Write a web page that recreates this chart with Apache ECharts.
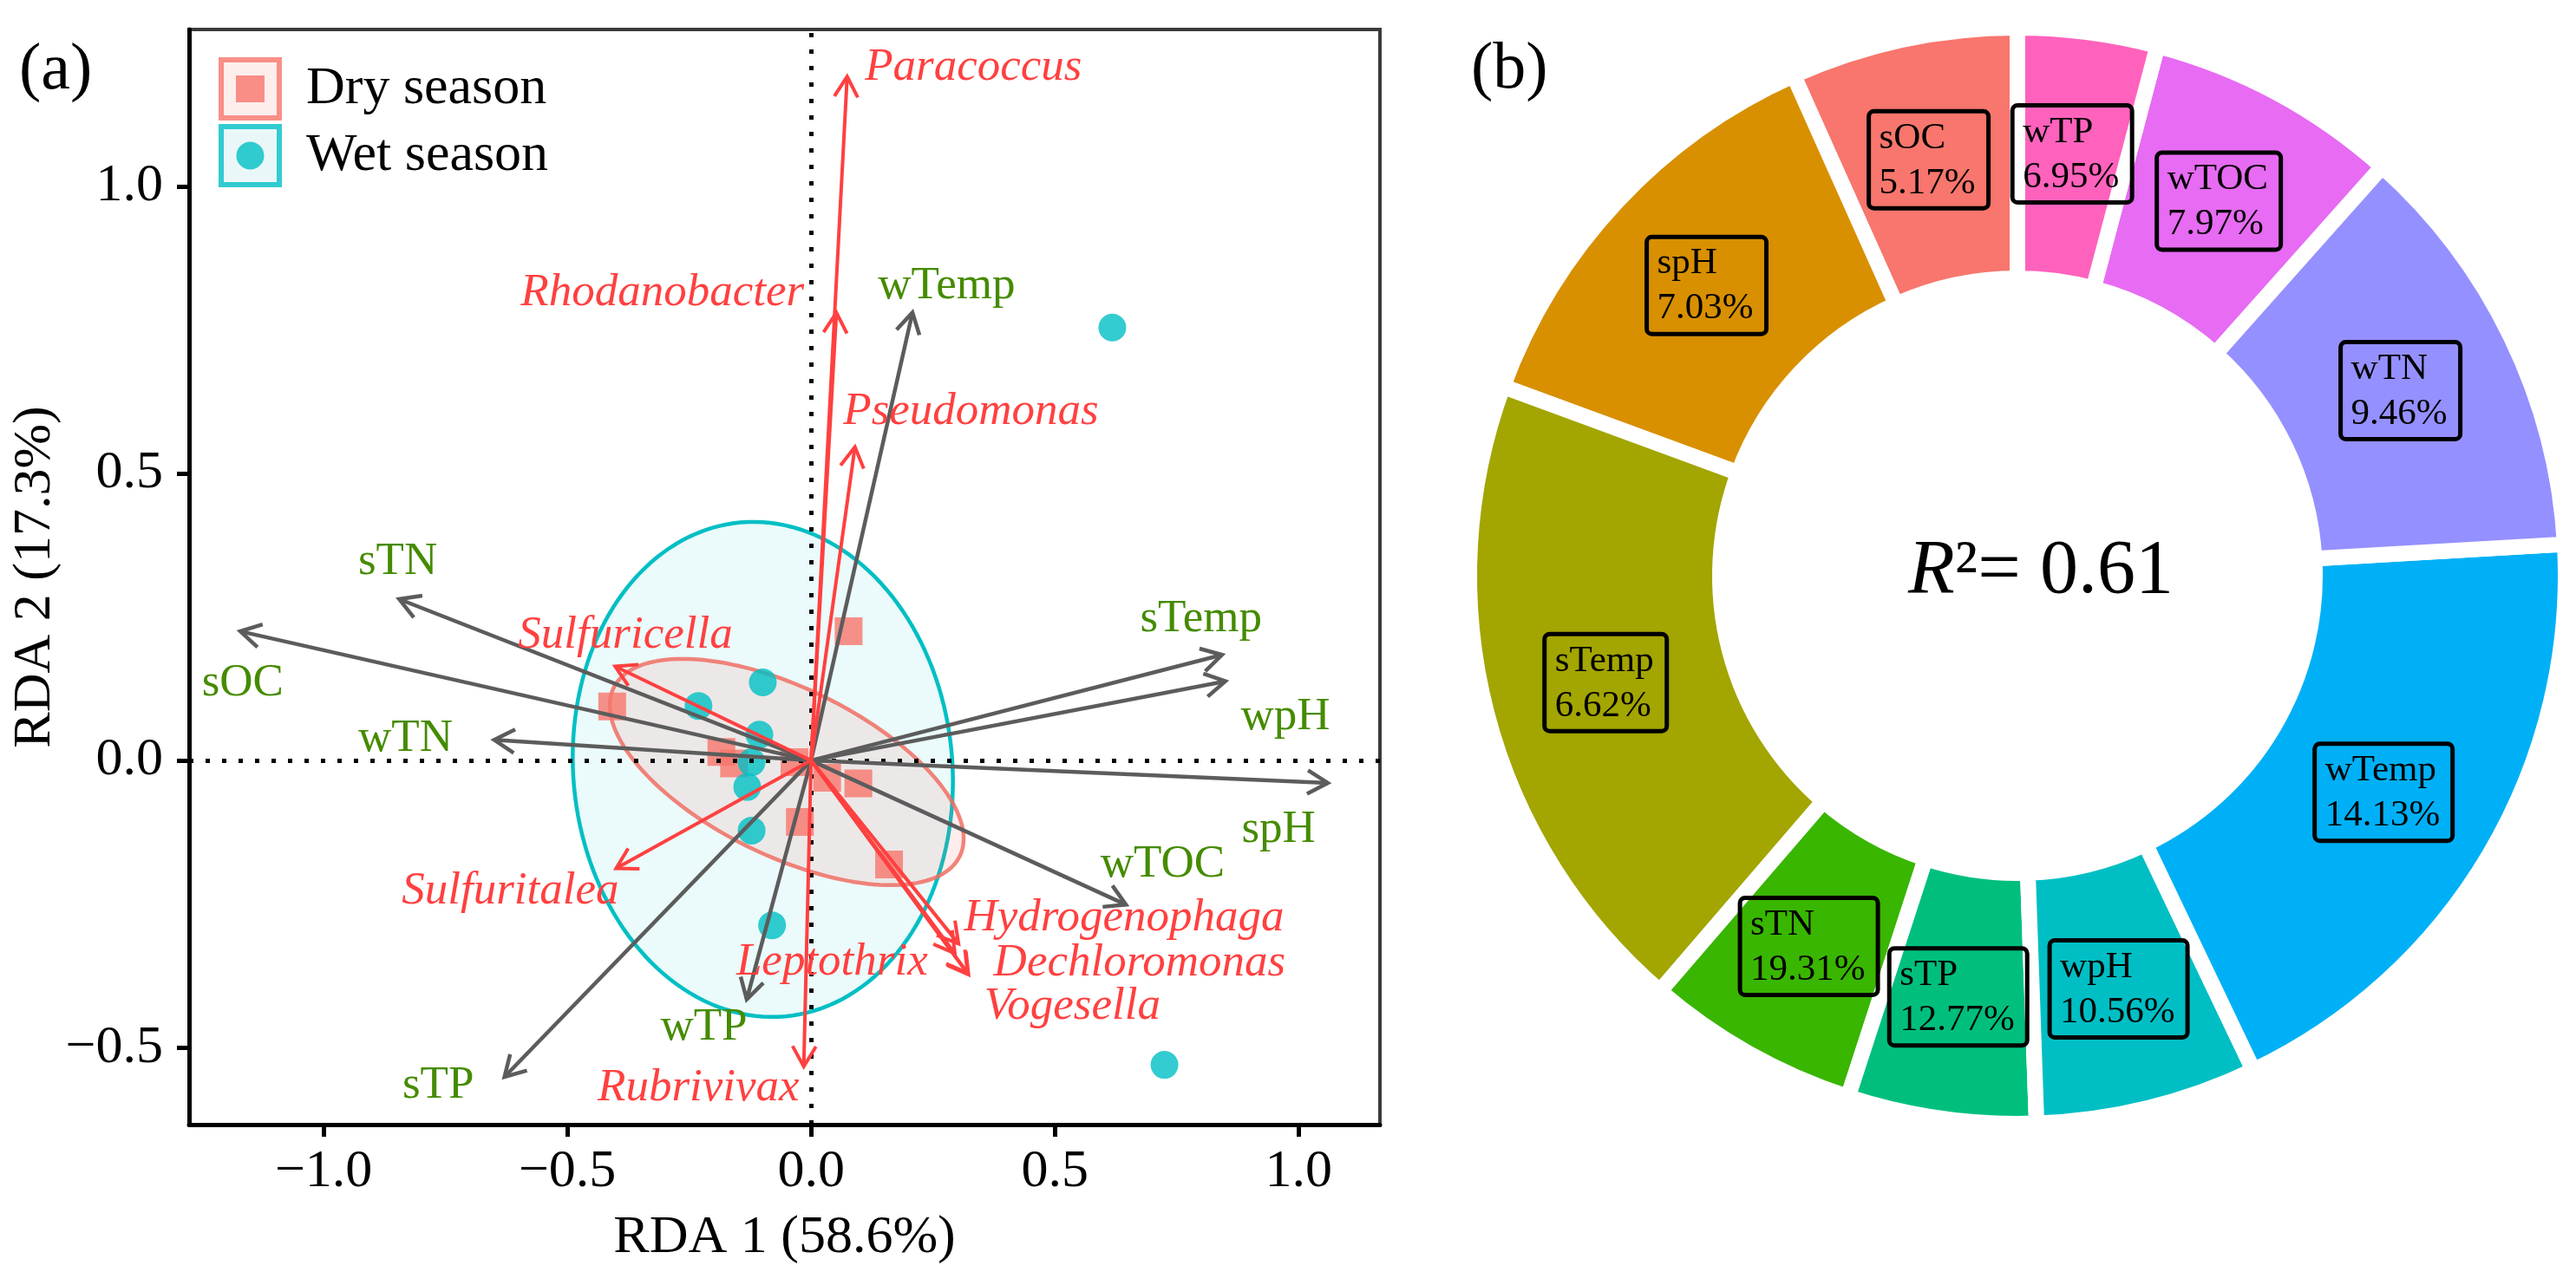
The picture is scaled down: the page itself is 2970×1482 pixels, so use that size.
<!DOCTYPE html>
<html><head><meta charset="utf-8">
<script src="https://cdn.jsdelivr.net/npm/echarts@6/dist/echarts.min.js"></script>
<style>html,body{margin:0;padding:0;background:#fff}#c{width:2970px;height:1482px}</style>
</head><body><div id="c"></div><script>
// ---------- DATA: panel (a) RDA ----------
const xTicks = [-1.0, -0.5, 0.0, 0.5, 1.0];
const yTicks = [-0.5, 0.0, 0.5, 1.0];

const dryX = [-0.408, 0.077, -0.184, -0.158, -0.034, 0.033, 0.097, -0.023, 0.160];
const dryY = [0.094, 0.225, 0.015, -0.005, -0.003, -0.030, -0.040, -0.107, -0.181];
const wetX = [-0.099, -0.231, -0.106, -0.122, -0.131, -0.122, -0.080, 0.618, 0.725];
const wetY = [0.136, 0.095, 0.045, -0.003, -0.046, -0.122, -0.287, 0.754, -0.530];

// ellipse: [centerX, centerY, halfWidthX, halfHeightY, correlation]
const dryEllipse = [-0.050, -0.020, 0.363, 0.197, -0.589];
const wetEllipse = [-0.099, -0.0155, 0.390, 0.431, -0.049];

const envNames = ['sOC', 'sTN', 'wTN', 'sTP', 'wTP', 'wTemp', 'sTemp', 'wpH', 'spH', 'wTOC'];
const envX = [-1.171, -0.845, -0.650, -0.629, -0.132, 0.208, 0.843, 0.850, 1.060, 0.646];
const envY = [0.225, 0.281, 0.036, -0.551, -0.416, 0.780, 0.184, 0.138, -0.039, -0.251];
const envLabelX = [-1.166, -0.848, -0.832, -0.765, -0.220, 0.278, 0.800, 0.973, 0.959, 0.721];
const envLabelY = [0.134, 0.346, 0.038, -0.566, -0.465, 0.826, 0.246, 0.075, -0.121, -0.181];

const spNames = ['Paracoccus', 'Rhodanobacter', 'Pseudomonas', 'Sulfuricella', 'Sulfuritalea', 'Leptothrix', 'Rubrivivax', 'Hydrogenophaga', 'Dechloromonas', 'Vogesella'];
const spX = [0.074, 0.052, 0.090, -0.402, -0.400, 0.295, -0.015, 0.3025, 0.323, 0.321];
const spY = [1.191, 0.780, 0.546, 0.164, -0.188, -0.336, -0.533, -0.319, -0.373, -0.370];
const spLabelX = [0.333, -0.305, 0.328, -0.381, -0.617, 0.043, -0.231, 0.642, 0.674, 0.536];
const spLabelY = [1.207, 0.814, 0.607, 0.2175, -0.228, -0.352, -0.571, -0.275, -0.354, -0.429];

// ---------- DATA: panel (b) donut ----------
const pieNames = ['sOC', 'spH', 'sTemp', 'sTN', 'sTP', 'wpH', 'wTemp', 'wTN', 'wTOC', 'wTP'];
const pieSlices = [24.1, 45.7, 69.5, 22.7, 20.0, 23.5, 67.8, 45.0, 26.9, 14.8]; // slice sizes as drawn
const pieLabelPct = ['5.17%', '7.03%', '6.62%', '19.31%', '12.77%', '10.56%', '14.13%', '9.46%', '7.97%', '6.95%'];
const pieColors = ['#F8766D', '#D89000', '#A3A500', '#39B600', '#00BF7D', '#00BFC4', '#00B0F6', '#9590FF', '#E76BF3', '#FF62BC'];
const r2Text = '0.61';

// ---------- STYLE ----------
const SERIF = '"Liberation Serif", "Times New Roman", serif';
const GREEN = '#458B00';
const RED = '#FF4040';
const GRAY = '#5c5c5c';
const fmt = v => v.toFixed(1).replace('-', '\u2212');

function zip(a, b) { return a.map((v, i) => [v, b[i]]); }

function ellipseSeries(par, fill, stroke, z) {
  return {
    type: 'custom', z: z, silent: true, clip: false,
    data: [[par[0], par[1]]],
    renderItem: function (params, api) {
      const pts = [];
      const k = Math.sqrt(1 - par[4] * par[4]);
      for (let i = 0; i < 160; i++) {
        const t = i / 160 * Math.PI * 2;
        const x = par[0] + par[2] * Math.cos(t);
        const y = par[1] + par[3] * (par[4] * Math.cos(t) + k * Math.sin(t));
        pts.push(api.coord([x, y]));
      }
      return { type: 'polygon', shape: { points: pts }, style: { fill: fill, stroke: stroke, lineWidth: 4.5 } };
    }
  };
}

function arrowSeries(xs, ys, color, width, z) {
  return {
    type: 'custom', z: z, silent: true, clip: false,
    data: zip(xs, ys),
    renderItem: function (params, api) {
      const o = api.coord([0, 0]);
      const t = api.coord([api.value(0), api.value(1)]);
      const ang = Math.atan2(t[1] - o[1], t[0] - o[0]);
      const L = 27, A = Math.PI / 6;
      const p1 = [t[0] - L * Math.cos(ang - A), t[1] - L * Math.sin(ang - A)];
      const p2 = [t[0] - L * Math.cos(ang + A), t[1] - L * Math.sin(ang + A)];
      return {
        type: 'group', children: [
          { type: 'line', shape: { x1: o[0], y1: o[1], x2: t[0], y2: t[1] }, style: { stroke: color, lineWidth: width } },
          { type: 'polyline', shape: { points: [p1, t, p2] }, style: { stroke: color, lineWidth: width, fill: null, lineJoin: 'miter' } }
        ]
      };
    }
  };
}

function labelSeries(xs, ys, names, color, italic, z) {
  return {
    type: 'custom', z: z, silent: true, clip: false,
    data: zip(xs, ys),
    renderItem: function (params, api) {
      const p = api.coord([api.value(0), api.value(1)]);
      return {
        type: 'text', x: p[0], y: p[1],
        style: {
          text: names[params.dataIndex], fill: color, fontSize: 53, fontFamily: SERIF,
          fontStyle: italic ? 'italic' : 'normal', align: 'center', verticalAlign: 'middle'
        }
      };
    }
  };
}

// pie labels: left-aligned two-line boxes
const mctx = document.createElement('canvas').getContext('2d');
mctx.font = '43px "Liberation Serif"';
const pieData = pieNames.map((n, i) => {
  const w = Math.ceil(Math.max(mctx.measureText(n).width, mctx.measureText(pieLabelPct[i]).width)) + 2;
  return {
    name: n, value: pieSlices[i], itemStyle: { color: pieColors[i] },
    label: {
      formatter: '{t|' + n + '}\n{t|' + pieLabelPct[i] + '}',
      rich: { t: { width: w, align: 'left', fontSize: 43, lineHeight: 52, fontFamily: SERIF, color: '#000' } }
    }
  };
});

const axisLabelStyle = { fontSize: 62, fontFamily: SERIF, color: '#000' };

const option = {
  animation: false,
  backgroundColor: '#fff',
  grid: { left: 218, top: 34, width: 1373, height: 1263, show: true, borderColor: '#3a3a3a', borderWidth: 4, backgroundColor: 'rgba(0,0,0,0)' },
  xAxis: {
    type: 'value', min: -1.276, max: 1.167,
    splitLine: { show: false },
    axisLine: { show: true, onZero: false, lineStyle: { color: '#000', width: 5 } },
    axisTick: { show: true, customValues: xTicks, length: 14, lineStyle: { color: '#000', width: 5 } },
    axisLabel: Object.assign({ customValues: xTicks, formatter: fmt, margin: 24 }, axisLabelStyle),
    name: 'RDA 1 (58.6%)', nameLocation: 'middle', nameGap: 100,
    nameTextStyle: axisLabelStyle
  },
  yAxis: {
    type: 'value', min: -0.634, max: 1.273,
    splitLine: { show: false },
    axisLine: { show: true, onZero: false, lineStyle: { color: '#000', width: 5 } },
    axisTick: { show: true, customValues: yTicks, length: 14, lineStyle: { color: '#000', width: 5 } },
    axisLabel: Object.assign({ customValues: yTicks, formatter: fmt, margin: 30 }, axisLabelStyle),
    name: 'RDA 2 (17.3%)', nameLocation: 'middle', nameGap: 132,
    nameTextStyle: axisLabelStyle
  },
  legend: {
    left: 252, top: 66, orient: 'vertical', itemWidth: 73, itemHeight: 73, itemGap: 4, padding: 0, z: 10,
    selectedMode: false,
    textStyle: { fontSize: 62, fontFamily: SERIF, color: '#000', padding: [0, 0, 0, 23] },
    data: [
      { name: 'Dry season', icon: 'path://M0,0H73V73H0Z M6,6V67H67V6Z M20,21H53V52H20Z' },
      { name: 'Wet season', icon: 'path://M0,0H73V73H0Z M6,6V67H67V6Z M36.5,20.5A16,16,0,1,1,36.49,20.5Z' }
    ]
  },
  graphic: [
    { type: 'rect', z: 0, shape: { x: 255, y: 69, width: 67, height: 67 }, style: { fill: '#FDEEEC' } },
    { type: 'rect', z: 0, shape: { x: 255, y: 146, width: 67, height: 67 }, style: { fill: '#EAF7F8' } },
    { type: 'text', x: 22, y: 82, style: { text: '(a)', fontSize: 76, fontFamily: SERIF, fill: '#000', align: 'left', verticalAlign: 'middle' } },
    { type: 'text', x: 1696, y: 81, style: { text: '(b)', fontSize: 76, fontFamily: SERIF, fill: '#000', align: 'left', verticalAlign: 'middle' } },
    {
      type: 'text', x: 2353, y: 660, z: 10,
      style: {
        text: '{i|R}{n|\u00b2= ' + r2Text + '}', align: 'center', verticalAlign: 'middle',
        rich: {
          i: { fontSize: 88, fontFamily: SERIF, fontStyle: 'italic', fill: '#000' },
          n: { fontSize: 88, fontFamily: SERIF, fill: '#000' }
        }
      }
    }
  ],
  series: [
    ellipseSeries(wetEllipse, 'rgba(0,191,196,0.08)', '#00BFC4', 1),
    ellipseSeries(dryEllipse, 'rgba(248,118,109,0.13)', 'rgba(240,110,100,0.85)', 2),
    {
      type: 'line', data: [], z: 3, silent: true,
      markLine: {
        silent: true, symbol: 'none', label: { show: false },
        lineStyle: { color: '#000', width: 5, type: [5, 14] },
        data: [{ xAxis: 0 }, { yAxis: 0 }]
      }
    },
    {
      name: 'Dry season', type: 'scatter', symbol: 'rect', symbolSize: 32, z: 4,
      itemStyle: { color: '#F8766D', opacity: 0.8 }, data: zip(dryX, dryY)
    },
    {
      name: 'Wet season', type: 'scatter', symbol: 'circle', symbolSize: 32, z: 4,
      itemStyle: { color: '#00BFC4', opacity: 0.8 }, data: zip(wetX, wetY)
    },
    arrowSeries(envX, envY, GRAY, 4.5, 5),
    arrowSeries(spX, spY, RED, 4, 6),
    labelSeries(envLabelX, envLabelY, envNames, GREEN, false, 7),
    labelSeries(spLabelX, spLabelY, spNames, RED, true, 7),
    {
      type: 'pie', center: [2326, 664], radius: [343, 632], startAngle: 90, clockwise: false,
      avoidLabelOverlap: false, silent: true,
      itemStyle: { borderColor: '#fff', borderWidth: 18 },
      label: {
        show: true, position: 'inside', color: '#000', fontFamily: SERIF, fontSize: 43, lineHeight: 52,
        borderColor: '#000', borderWidth: 2.5, borderRadius: 6, padding: [5, 12, 3, 12], backgroundColor: 'transparent'
      },
      labelLine: { show: false },
      emphasis: { disabled: true },
      data: pieData
    }
  ]
};

const chart = echarts.init(document.getElementById('c'), null, { renderer: 'canvas' });
chart.setOption(option);
</script></body></html>
